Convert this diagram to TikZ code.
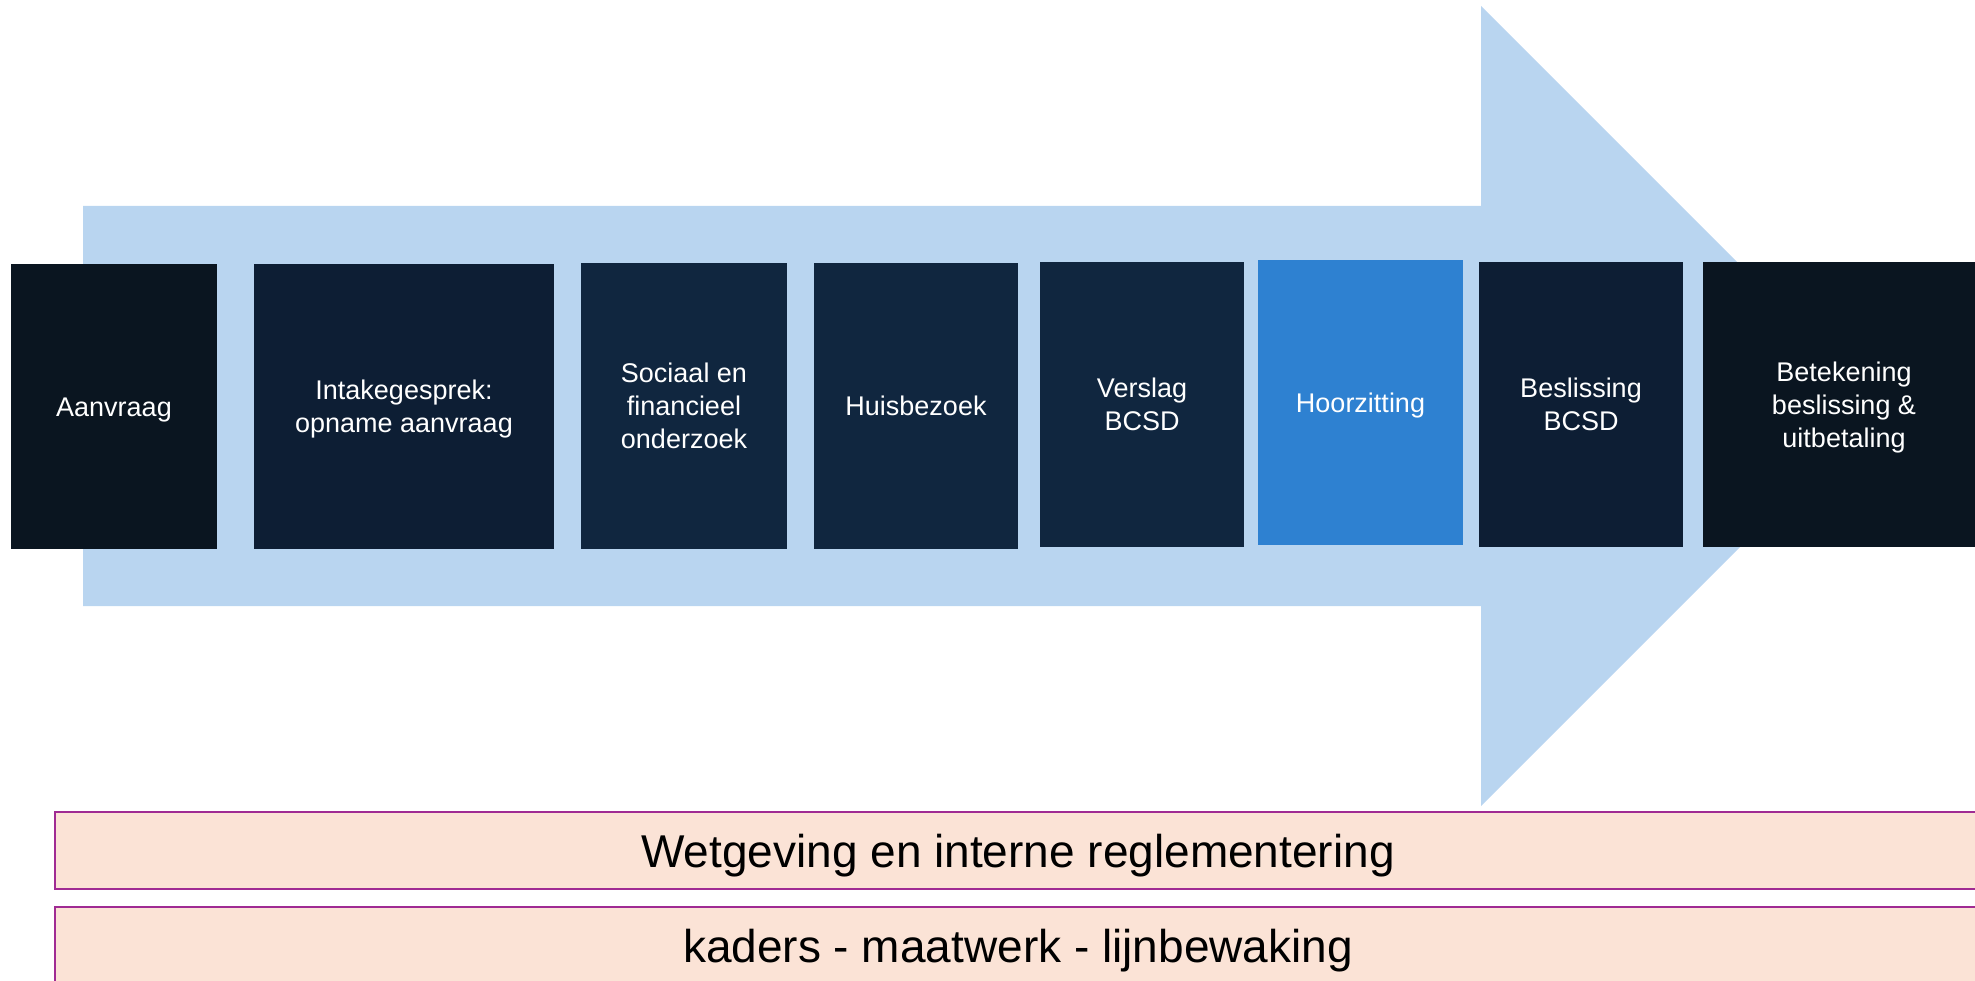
\documentclass[tikz,border=0pt]{standalone}
\usepackage{fontspec}
\setmainfont{Liberation Sans}
\definecolor{pijlblauw}{HTML}{B9D5F0}
\definecolor{stapzwart}{HTML}{0A1520}
\definecolor{stapdonker}{HTML}{0D1E34}
\definecolor{stapnavy}{HTML}{10263F}
\definecolor{stapblauw}{HTML}{2E81D1}
\definecolor{bandrand}{HTML}{A02B93}
\definecolor{bandvul}{HTML}{FBE3D6}
\newcommand{\bovenstrut}{\rule{0pt}{25.4pt}}

\begin{document}
\begin{tikzpicture}[x = 1pt, y = -1pt,
        stap/.style = {rectangle, inner sep = 0pt, minimum height = 285pt, text = white, align = center, font = \fontsize{27}{33}\selectfont,
            execute at begin node = {\bovenstrut}, execute at end node = {\rule[-6pt]{0pt}{6pt}}},
        band/.style = {rectangle, draw = bandrand, line width = 1.5pt, fill = bandvul, inner sep = 0pt, minimum width = 1926pt, minimum height = 77pt, font = \fontsize{46}{55}\selectfont,
            execute at begin node = {\rule[-10pt]{0pt}{53pt}}}]
            \useasboundingbox (0,0) rectangle (1975,981);
            \fill[pijlblauw] (83,206) -- (1481,206) -- (1481,6) -- (1881,406) -- (1481,806) -- (1481,606) -- (83,606) -- cycle;
            \node[stap, fill = stapzwart, minimum width = 206pt] (aanvraag) at (114,406.5) {Aanvraag};
            \node[stap, fill = stapdonker, minimum width = 300pt] (intake) at (404,406.5) {\bovenstrut Intakegesprek:\\opname aanvraag};
            \node[stap, fill = stapnavy, minimum width = 206pt] (onderzoek) at (684,406) {\bovenstrut Sociaal en\\financieel\\onderzoek};
            \node[stap, fill = stapnavy, minimum width = 204pt] (huisbezoek) at (916,406) {Huisbezoek};
            \node[stap, fill = stapnavy, minimum width = 204pt] (verslag) at (1142,404.5) {\bovenstrut Verslag\\BCSD};
            \node[stap, fill = stapblauw, minimum width = 205pt] (hoorzitting) at (1360.5,402.5) {Hoorzitting};
            \node[stap, fill = stapdonker, minimum width = 204pt] (beslissing) at (1581,404.5) {\bovenstrut Beslissing\\BCSD};
            \node[stap, fill = stapzwart, minimum width = 282pt] (betekening) at (1844,404.5) {\bovenstrut Betekening\\beslissing \&\\uitbetaling};
            \node[band] (wetgeving) at (1018,850.5) {Wetgeving en interne reglementering};
            \node[band] (kaders) at (1018,945.5) {kaders - maatwerk - lijnbewaking};

        \end{tikzpicture}
\end{document}
